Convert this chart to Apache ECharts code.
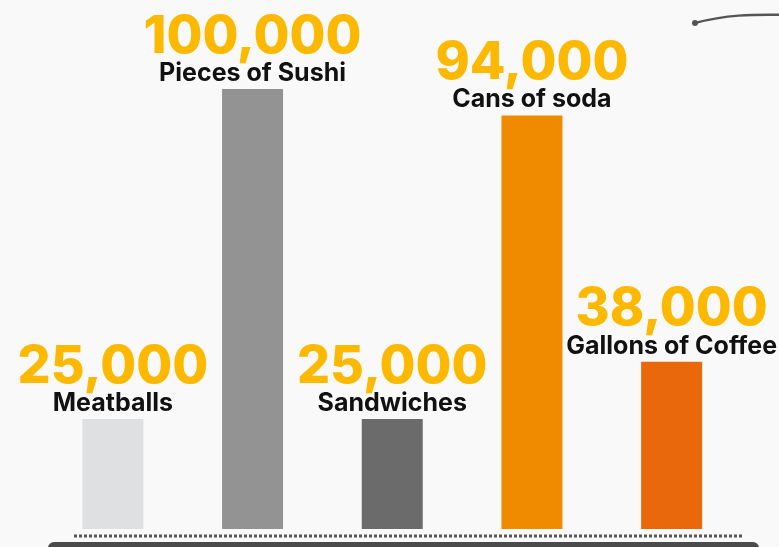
<!DOCTYPE html>
<html>
<head>
<meta charset="utf-8">
<script src="https://cdn.jsdelivr.net/npm/echarts@6/dist/echarts.min.js"></script>
<style>
html,body{margin:0;padding:0;background:#f9f9f9;}
#chart{width:779px;height:547px;}
</style>
</head>
<body>
<div id="chart"></div>
<script>
var categories = ['Meatballs', 'Pieces of Sushi', 'Sandwiches', 'Cans of soda', 'Gallons of Coffee'];
var values = [25000, 100000, 25000, 94000, 38000];
var valueLabels = ['25,000', '100,000', '25,000', '94,000', '38,000'];
var barColors = ['#dfe0e2', '#939394', '#6b6b6c', '#f08b00', '#ea680c'];

var chart = echarts.init(document.getElementById('chart'));
var option = {
  backgroundColor: '#f9f9f9',
  animation: false,
  grid: { left: 43, right: 37.5, top: 89, bottom: 18, containLabel: false },
  xAxis: {
    type: 'category',
    data: categories,
    show: false
  },
  yAxis: {
    type: 'value',
    min: 0,
    max: 100000,
    show: false
  },
  graphic: [
    {
      type: 'rect',
      shape: { x: 48, y: 542, width: 711, height: 10, r: [6, 6, 0, 0] },
      style: { fill: '#4b4b4b' }
    },
    {
      type: 'line',
      shape: { x1: 74, y1: 536, x2: 743, y2: 536 },
      style: { stroke: '#555555', lineWidth: 3, lineDash: [3, 2] }
    },
    {
      type: 'bezierCurve',
      shape: { x1: 695, y1: 23, cpx1: 725, cpy1: 15, cpx2: 750, cpy2: 14, x2: 790, y2: 15 },
      style: { stroke: '#555555', lineWidth: 2.5, fill: null }
    },
    {
      type: 'circle',
      shape: { cx: 695, cy: 23, r: 3 },
      style: { fill: '#555555' }
    }
  ],
  series: [{
    type: 'bar',
    barWidth: 61,
    data: values.map(function (v, i) {
      return { value: v, itemStyle: { color: barColors[i] } };
    }),
    label: {
      show: true,
      position: 'top',
      distance: 3,
      align: 'center',
      formatter: function (p) {
        return '{v|' + valueLabels[p.dataIndex] + '}\n{n|' + categories[p.dataIndex] + '}';
      },
      rich: {
        v: {
          fontFamily: 'Inter',
          fontWeight: 800,
          fontSize: 52,
          lineHeight: 48,
          color: '#fcb900',
          align: 'center'
        },
        n: {
          fontFamily: 'Inter',
          fontWeight: 700,
          fontSize: 25,
          lineHeight: 25,
          color: '#111111',
          align: 'center'
        }
      }
    }
  }]
};
chart.setOption(option);
</script>
</body>
</html>
